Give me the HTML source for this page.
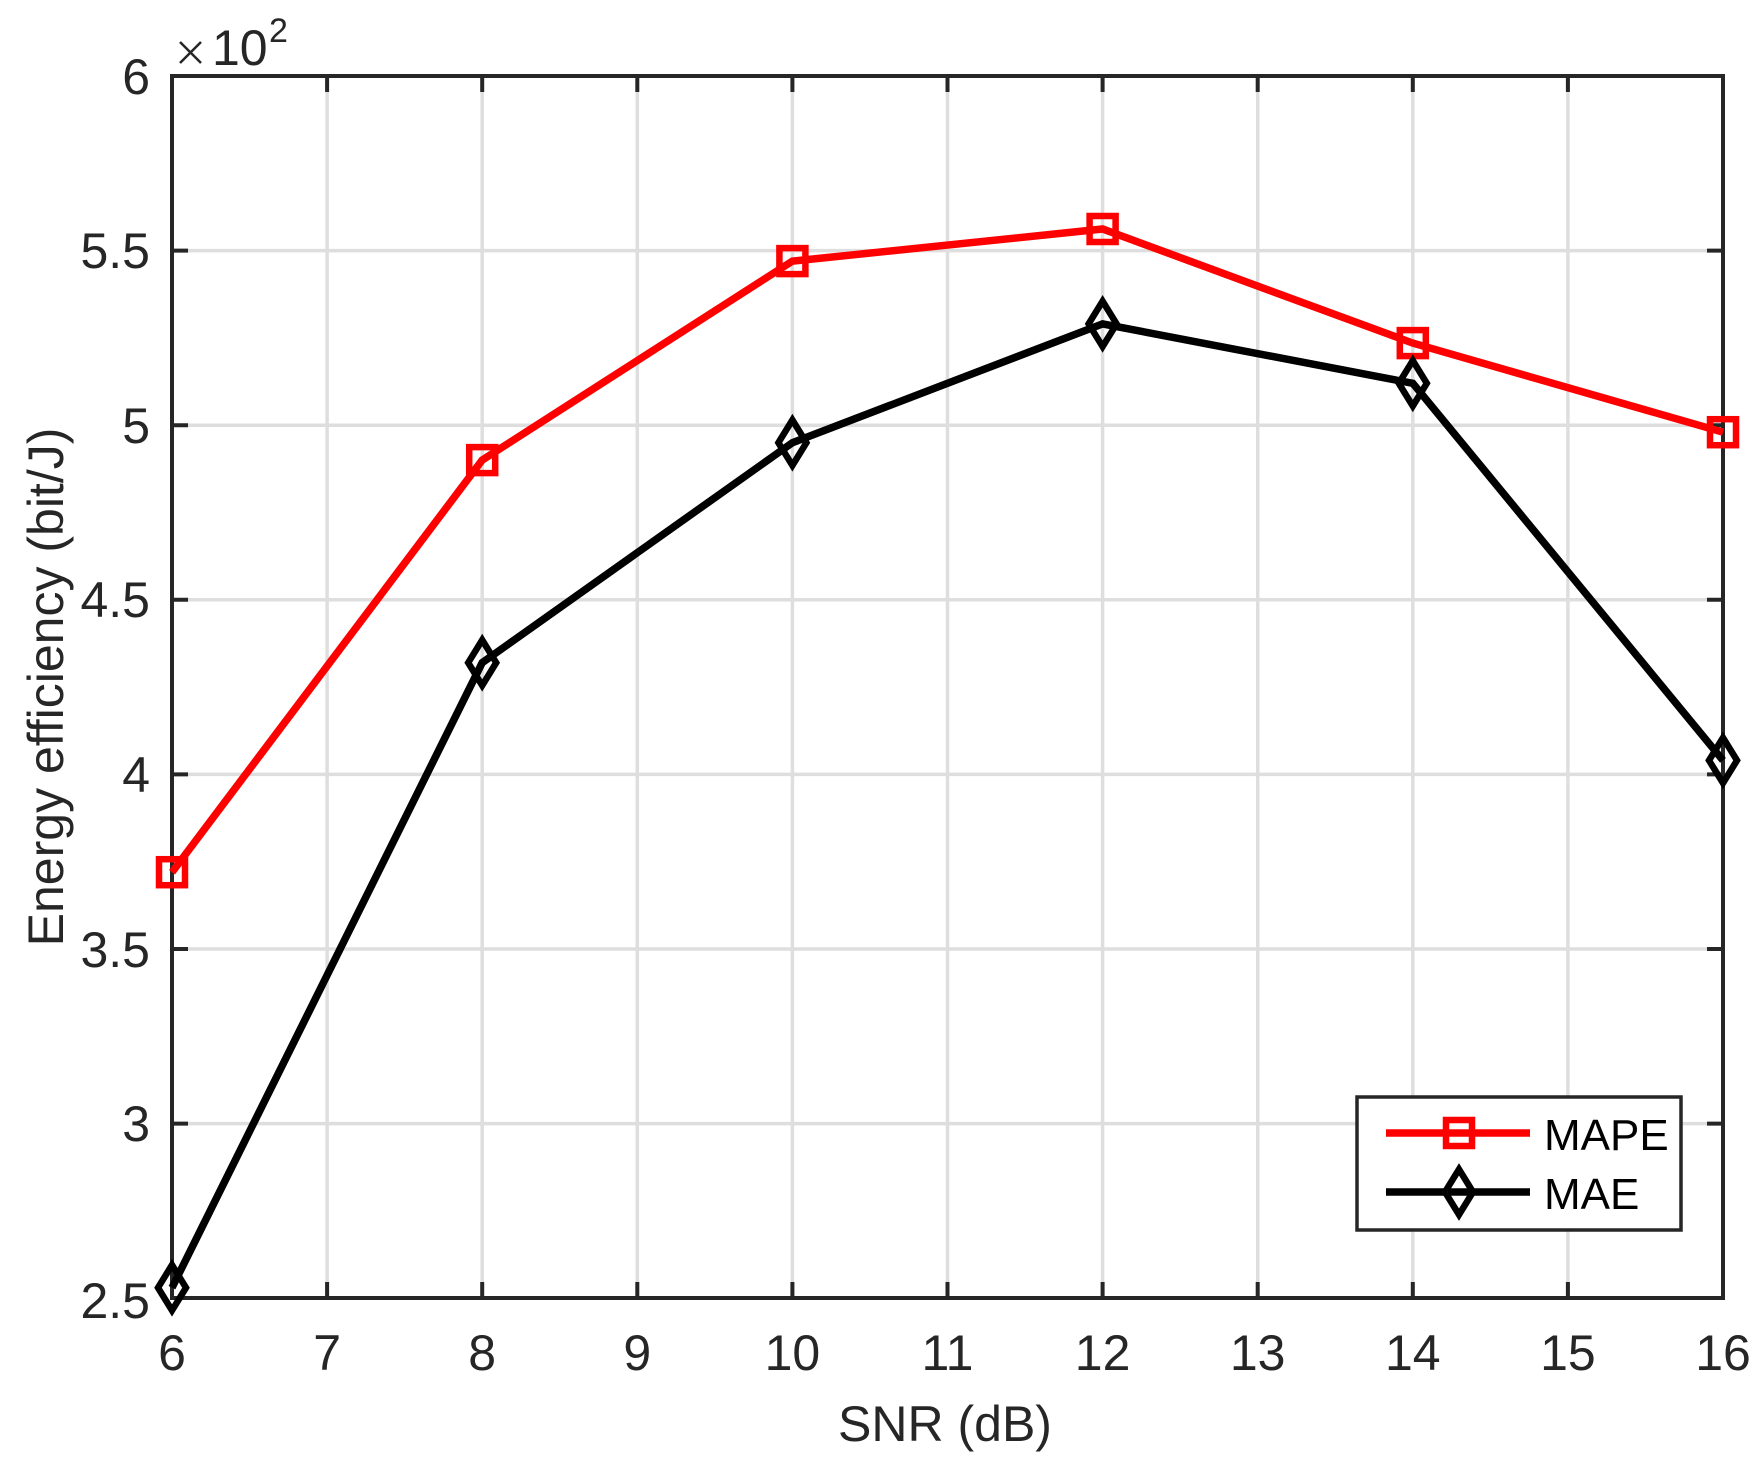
<!DOCTYPE html>
<html><head><meta charset="utf-8"><style>
html,body{margin:0;padding:0;background:#fff;}
svg{display:block;font-family:"Liberation Sans",Arial,sans-serif;}
</style></head><body>
<svg width="1763" height="1463" viewBox="0 0 1763 1463" xmlns="http://www.w3.org/2000/svg">
<rect width="1763" height="1463" fill="#fff"/>
<g stroke="#dedede" stroke-width="3.5">
<line x1="327.1" y1="76" x2="327.1" y2="1298"/>
<line x1="482.2" y1="76" x2="482.2" y2="1298"/>
<line x1="637.3" y1="76" x2="637.3" y2="1298"/>
<line x1="792.4" y1="76" x2="792.4" y2="1298"/>
<line x1="947.5" y1="76" x2="947.5" y2="1298"/>
<line x1="1102.6" y1="76" x2="1102.6" y2="1298"/>
<line x1="1257.7" y1="76" x2="1257.7" y2="1298"/>
<line x1="1412.8" y1="76" x2="1412.8" y2="1298"/>
<line x1="1567.9" y1="76" x2="1567.9" y2="1298"/>
<line x1="172" y1="250.6" x2="1723" y2="250.6"/>
<line x1="172" y1="425.2" x2="1723" y2="425.2"/>
<line x1="172" y1="599.8" x2="1723" y2="599.8"/>
<line x1="172" y1="774.4" x2="1723" y2="774.4"/>
<line x1="172" y1="949" x2="1723" y2="949"/>
<line x1="172" y1="1123.6" x2="1723" y2="1123.6"/>
</g>
<g stroke="#262626" stroke-width="4">
<path d="M327.1 1298v-16M482.2 1298v-16M637.3 1298v-16M792.4 1298v-16M947.5 1298v-16M1102.6 1298v-16M1257.7 1298v-16M1412.8 1298v-16M1567.9 1298v-16"/>
<path d="M327.1 76v16M482.2 76v16M637.3 76v16M792.4 76v16M947.5 76v16M1102.6 76v16M1257.7 76v16M1412.8 76v16M1567.9 76v16"/>
<path d="M172 250.6h16M172 425.2h16M172 599.8h16M172 774.4h16M172 949h16M172 1123.6h16"/>
<path d="M1723 250.6h-16M1723 425.2h-16M1723 599.8h-16M1723 774.4h-16M1723 949h-16M1723 1123.6h-16"/>
<rect x="172" y="76" width="1551" height="1222" fill="none"/>
</g>
<g fill="#262626" font-size="50">
<g text-anchor="end">
<text x="150" y="94">6</text>
<text x="150" y="268">5.5</text>
<text x="150" y="443">5</text>
<text x="150" y="617">4.5</text>
<text x="150" y="792">4</text>
<text x="150" y="967">3.5</text>
<text x="150" y="1141">3</text>
<text x="150" y="1318">2.5</text>
</g>
<g text-anchor="middle">
<text x="172" y="1370">6</text>
<text x="327.1" y="1370">7</text>
<text x="482.2" y="1370">8</text>
<text x="637.3" y="1370">9</text>
<text x="792.4" y="1370">10</text>
<text x="947.5" y="1370">11</text>
<text x="1102.6" y="1370">12</text>
<text x="1257.7" y="1370">13</text>
<text x="1412.8" y="1370">14</text>
<text x="1567.9" y="1370">15</text>
<text x="1723" y="1370">16</text>
<text x="945" y="1441">SNR (dB)</text>
<text transform="translate(63,687) rotate(-90)">Energy efficiency (bit/J)</text>
</g>
<text x="212" y="65">10</text>
<text x="269" y="42" font-size="34">2</text>
</g>
<path d="M180 42l21 21M201 42l-21 21" stroke="#262626" stroke-width="2.5"/>
<g fill="none" stroke-linejoin="miter">
<polyline points="172,872.2 482.2,460.1 792.4,261.1 1102.6,229 1412.8,343.1 1723,432.2" stroke="#ff0000" stroke-width="7.5"/>
<g stroke="#ff0000" stroke-width="6.5">
<rect x="159" y="859.2" width="26" height="26"/>
<rect x="469.2" y="447.1" width="26" height="26"/>
<rect x="779.4" y="248.1" width="26" height="26"/>
<rect x="1089.6" y="216" width="26" height="26"/>
<rect x="1399.8" y="330.1" width="26" height="26"/>
<rect x="1710" y="419.2" width="26" height="26"/>
</g>
<polyline points="172,1287.7 482.2,662.7 792.4,442.7 1102.6,323.9 1412.8,383.3 1723,760.4" stroke="#000" stroke-width="7.5"/>
<g stroke="#000" stroke-width="6.5">
<path d="M172 1265l14 22.7-14 22.7-14-22.7z"/>
<path d="M482.2 640l14 22.7-14 22.7-14-22.7z"/>
<path d="M792.4 420l14 22.7-14 22.7-14-22.7z"/>
<path d="M1102.6 301.2l14 22.7-14 22.7-14-22.7z"/>
<path d="M1412.8 360.6l14 22.7-14 22.7-14-22.7z"/>
<path d="M1723 737.7l14 22.7-14 22.7-14-22.7z"/>
</g>
</g>
<rect x="1357" y="1097" width="324" height="133" fill="#fff" stroke="#262626" stroke-width="3.5"/>
<line x1="1386" y1="1133" x2="1530" y2="1133" stroke="#ff0000" stroke-width="7.5"/>
<rect x="1446" y="1120" width="26" height="26" fill="none" stroke="#ff0000" stroke-width="6.5"/>
<line x1="1386" y1="1192" x2="1530" y2="1192" stroke="#000" stroke-width="7.5"/>
<path d="M1459 1169.3l14 22.7-14 22.7-14-22.7z" fill="none" stroke="#000" stroke-width="6.5"/>
<g font-size="44" fill="#000">
<text x="1544" y="1150">MAPE</text>
<text x="1544" y="1209">MAE</text>
</g>
</svg>
</body></html>
